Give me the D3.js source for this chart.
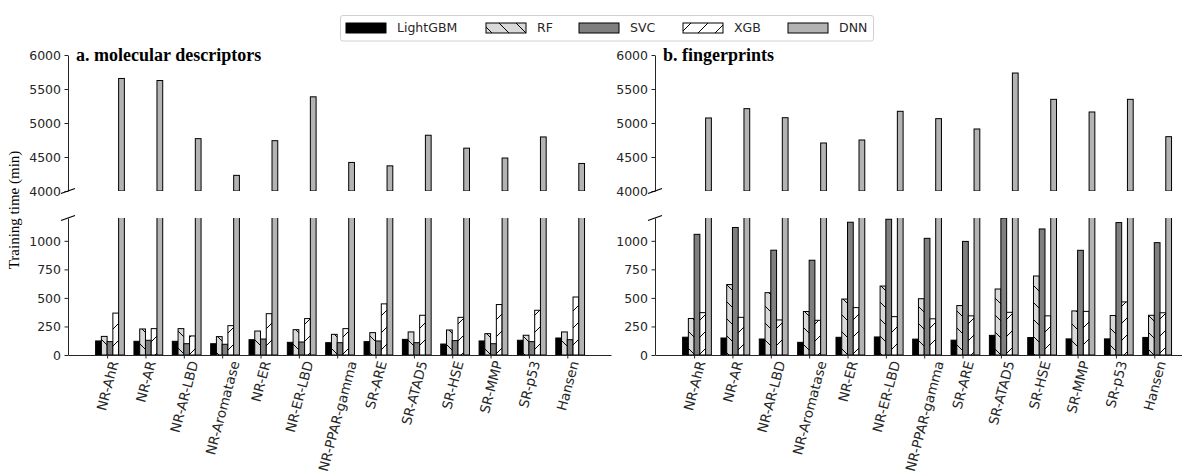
<!DOCTYPE html>
<html>
<head>
<meta charset="utf-8">
<script src="https://cdn.jsdelivr.net/npm/d3@7"></script>
<style>
  body { margin: 0; background: #fff; }
  svg { display: block; }
  .tick text { font-family: "DejaVu Sans", sans-serif; font-size: 12.5px; fill: #262626; }
  .xax .tick text { font-size: 13.5px; }
  .tick line, .domain { stroke: #262626; stroke-width: 1; }
</style>
</head>
<body>
<svg width="1182" height="475"></svg>
<script>
// categories and series
const categories = ["NR-AhR", "NR-AR", "NR-AR-LBD", "NR-Aromatase", "NR-ER", "NR-ER-LBD",
  "NR-PPAR-gamma", "SR-ARE", "SR-ATAD5", "SR-HSE", "SR-MMP", "SR-p53", "Hansen"];
const seriesNames = ["LightGBM", "RF", "SVC", "XGB", "DNN"];
const panelTitles = ["a. molecular descriptors", "b. fingerprints"];

// a. molecular descriptors (minutes)
const descLightGBM = [123, 120, 120, 99, 134, 111, 108, 117, 137, 96, 123, 129, 149];
const descRF = [163, 228, 231, 161, 210, 222, 181, 196, 202, 219, 187, 173, 202];
const descSVC = [117, 129, 99, 94, 140, 114, 108, 123, 108, 126, 99, 117, 134];
const descXGB = [367, 231, 167, 257, 362, 319, 231, 448, 348, 330, 442, 392, 508];
const descDNN = [5655, 5625, 4770, 4230, 4740, 5385, 4420, 4370, 4820, 4630, 4485, 4795, 4405];

// b. fingerprints (minutes)
const fpLightGBM = [156, 149, 140, 111, 155, 158, 139, 130, 172, 153, 141, 141, 154];
const fpRF = [320, 617, 546, 381, 490, 604, 493, 433, 578, 692, 386, 346, 348];
const fpSVC = [1057, 1117, 918, 830, 1163, 1189, 1022, 995, 1200, 1104, 917, 1160, 984];
const fpXGB = [371, 330, 307, 304, 415, 336, 317, 343, 374, 343, 382, 465, 370];
const fpDNN = [5074, 5211, 5078, 4706, 4750, 5172, 5064, 4912, 5735, 5348, 5162, 5348, 4799];

const topTicks = [4000, 4500, 5000, 5500, 6000];
const bottomTicks = [0, 250, 500, 750, 1000];

const panelData = [
  [descLightGBM, descRF, descSVC, descXGB, descDNN],
  [fpLightGBM, fpRF, fpSVC, fpXGB, fpDNN]
];

const fills = ["#000000", "url(#hatchBack)", "#7f7f7f", "url(#hatchFwd)", "#b3b3b3"];

const svg = d3.select("svg");
const defs = svg.append("defs");

// hatch patterns
function hatch(id, bg, forward) {
  const s = 17;
  const p = defs.append("pattern").attr("id", id)
    .attr("patternUnits", "userSpaceOnUse").attr("width", s).attr("height", s);
  p.append("rect").attr("width", s).attr("height", s).attr("fill", bg);
  const segs = forward
    ? [[0, s, s, 0], [-2, 2, 2, -2], [s - 2, s + 2, s + 2, s - 2]]
    : [[0, 0, s, s], [-2, s - 2, 2, s + 2], [s - 2, -2, s + 2, 2]];
  segs.forEach(d => p.append("line")
    .attr("x1", d[0]).attr("y1", d[1]).attr("x2", d[2]).attr("y2", d[3])
    .attr("stroke", "#000").attr("stroke-width", 1));
}
hatch("hatchBack", "#d9d9d9", false);
hatch("hatchFwd", "#ffffff", true);

const panelX = [[68, 611], [655, 1198]];
const yTop = d3.scaleLinear().domain([4000, 6000]).range([191, 55]);
const yBot = d3.scaleLinear().domain([0, 1200]).range([355, 218]);
const barW = 0.15;

panelData.forEach((data, p) => {
  const x = d3.scaleLinear().domain([-1.02, 13.14]).range(panelX[p]);
  const g = svg.append("g");

  [["top", yTop], ["bot", yBot]].forEach(([name, y]) => {
    const clipId = "clip" + p + name;
    const [y0, y1] = y.range();
    defs.append("clipPath").attr("id", clipId).append("rect")
      .attr("x", panelX[p][0]).attr("y", y1)
      .attr("width", panelX[p][1] - panelX[p][0]).attr("height", y0 - y1);

    const bars = g.append("g").attr("clip-path", `url(#${clipId})`);
    data.forEach((vals, k) => {
      bars.selectAll(null).data(vals).enter().append("rect")
        .attr("x", (d, i) => x(i + (k - 2) * barW))
        .attr("width", x(barW) - x(0))
        .attr("y", d => y(d))
        .attr("height", d => Math.max(0, y(y.domain()[0]) - y(d)))
        .attr("fill", fills[k])
        .attr("stroke", "#000")
        .attr("stroke-width", 1);
    });

    const ay = g.append("g").attr("transform", `translate(${panelX[p][0]},0)`)
      .call(d3.axisLeft(y).tickValues(name == "top" ? topTicks : bottomTicks)
        .tickFormat(d3.format("d"))
        .tickSize(3.5).tickPadding(3.5).tickSizeOuter(0));
    ay.selectAll(".tick text").attr("dy", "0.35em");
  });

  // x axis
  const ax = g.append("g").attr("class", "xax").attr("transform", `translate(0,${yBot(0)})`)
    .call(d3.axisBottom(x).tickValues(d3.range(categories.length))
      .tickFormat(i => categories[i]).tickSize(3.5).tickPadding(3.5).tickSizeOuter(0));
  ax.selectAll(".tick text").each(function () {
    const t = d3.select(this);
    t.attr("text-anchor", "middle").attr("dy", "0.35em");
    const len = this.getComputedTextLength();
    const h = 13.5;
    const a = 75 * Math.PI / 180;
    const cy = 4.5 + (len * Math.sin(a) + h * Math.cos(a)) / 2;
    t.attr("y", null).attr("transform", `translate(0,${cy}) rotate(-75)`);
  });

  // break marks
  const xs = panelX[p][0];
  [yTop(4000), yBot(1200)].forEach(yy => {
    g.append("line").attr("x1", xs - 7).attr("y1", yy + 2.5)
      .attr("x2", xs + 7).attr("y2", yy - 2.5)
      .attr("stroke", "#000").attr("stroke-width", 1.3);
  });

  // panel title
  g.append("text").attr("x", xs + 8).attr("y", 61)
    .attr("font-family", "Liberation Serif, serif").attr("font-weight", "bold")
    .attr("font-size", 18).attr("fill", "#000").text(panelTitles[p]);
});

// y label
svg.append("text").attr("transform", "translate(19,210) rotate(-90)")
  .attr("text-anchor", "middle")
  .attr("font-family", "Liberation Serif, serif").attr("font-size", 15)
  .attr("fill", "#000").text("Training time (min)");

// legend
const lg = svg.append("g");
lg.append("rect").attr("x", 340.5).attr("y", 15.5).attr("width", 533).attr("height", 25.5)
  .attr("rx", 2.5).attr("fill", "#fff").attr("stroke", "#d0d0d0");
const legX = [346, 486, 579, 683, 788];
seriesNames.forEach((s, k) => {
  lg.append("rect").attr("x", legX[k]).attr("y", 23).attr("width", 40).attr("height", 10)
    .attr("fill", fills[k]).attr("stroke", "#000").attr("stroke-width", 1);
  lg.append("text").attr("x", legX[k] + 51).attr("y", 28).attr("dy", "0.35em")
    .attr("font-family", "DejaVu Sans, sans-serif").attr("font-size", 12.5)
    .attr("fill", "#262626").text(s);
});
</script>
</body>
</html>
